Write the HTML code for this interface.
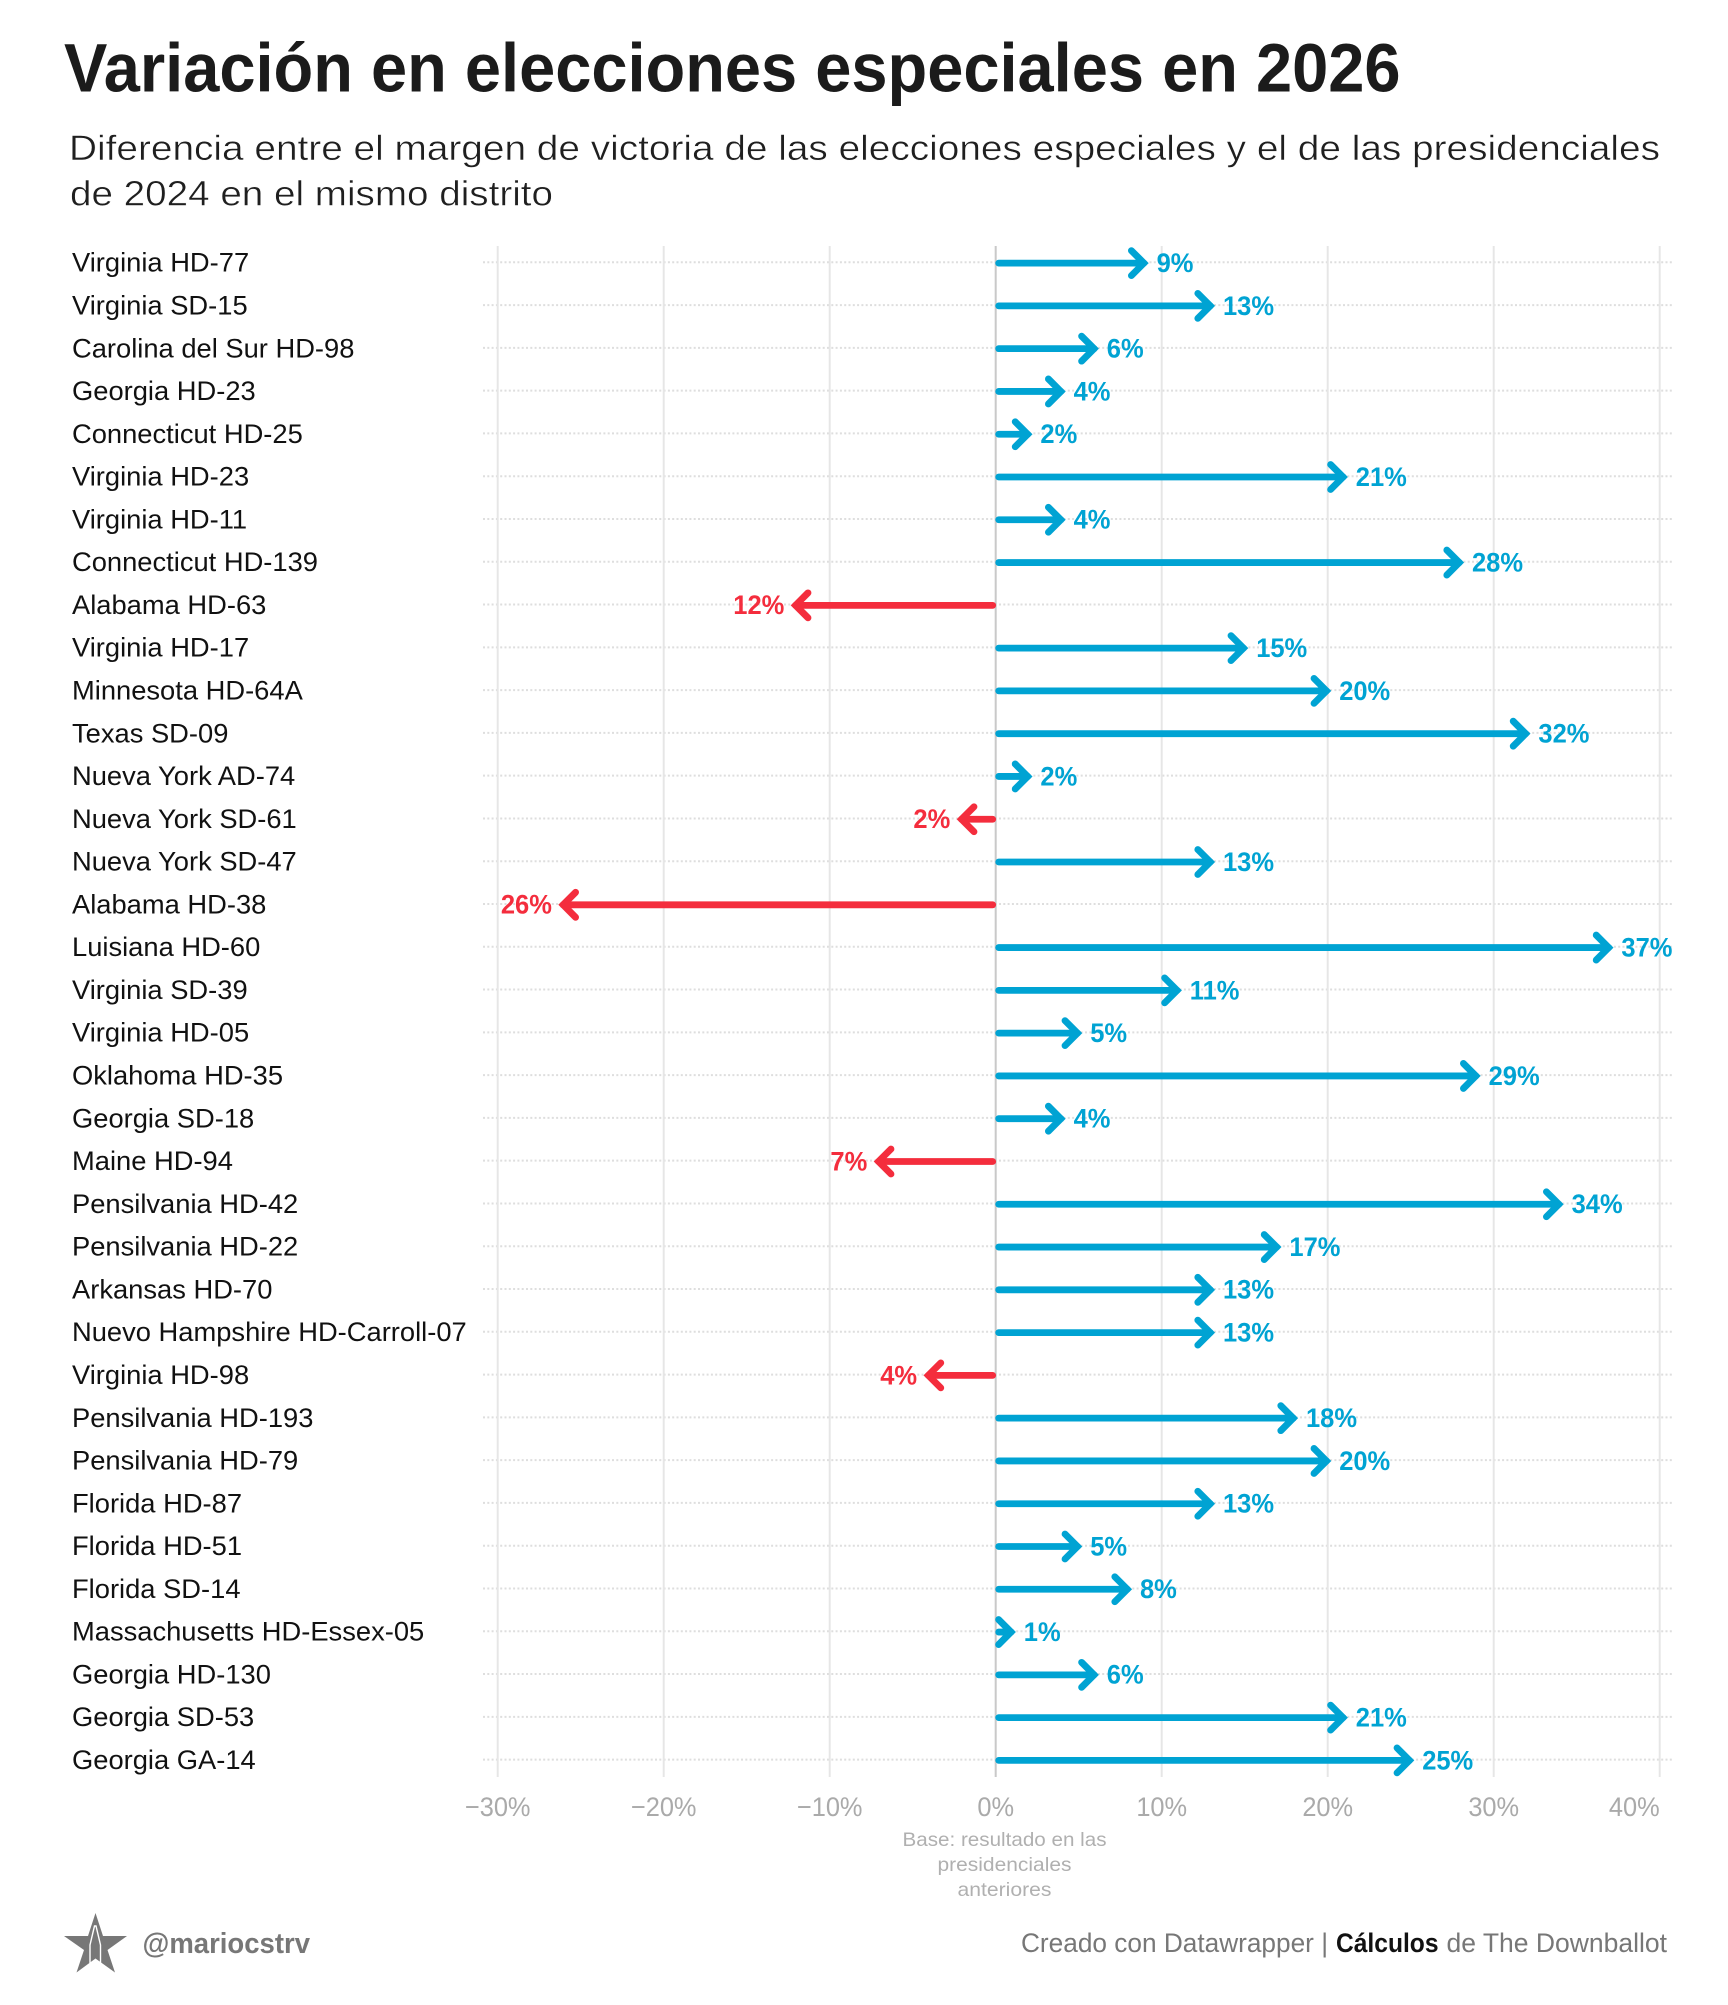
<!DOCTYPE html>
<html lang="es">
<head>
<meta charset="utf-8">
<title>Variación en elecciones especiales en 2026</title>
<style>
html,body{margin:0;padding:0;background:#fff;}
svg{display:block;font-family:"Liberation Sans",sans-serif;}
</style>
</head>
<body>
<svg id="chart" xmlns="http://www.w3.org/2000/svg" width="1728" height="2005" viewBox="0 0 1728 2005">
  <rect x="0" y="0" width="1728" height="2005" fill="#ffffff"/>
  <text x="64" y="91.5" font-size="69" font-weight="700" fill="#1b1b1b" textLength="1336.5" lengthAdjust="spacingAndGlyphs">Variación en elecciones especiales en 2026</text>
  <text x="69" y="160" font-size="35" fill="#1f1f1f" stroke="#ffffff" stroke-width="0.45" textLength="1591" lengthAdjust="spacingAndGlyphs">Diferencia entre el margen de victoria de las elecciones especiales y el de las presidenciales</text>
  <text x="70" y="205.5" font-size="35" fill="#1f1f1f" stroke="#ffffff" stroke-width="0.45" textLength="483" lengthAdjust="spacingAndGlyphs">de 2024 en el mismo distrito</text>

  <g id="grid-rows"></g>
  <g id="grid-cols"></g>
  <g id="row-labels"></g>
  <g id="arrows"></g>
  <g id="ticks"></g>

  <g font-size="19.5" fill="#b0b0b0" text-anchor="middle">
    <text x="1004.5" y="1846" textLength="204" lengthAdjust="spacingAndGlyphs">Base: resultado en las</text>
    <text x="1004.5" y="1871" textLength="134" lengthAdjust="spacingAndGlyphs">presidenciales</text>
    <text x="1004.5" y="1896" textLength="94" lengthAdjust="spacingAndGlyphs">anteriores</text>
  </g>

  <g>
    <polygon points="95.5,1913 103,1936 127,1936 107.5,1950 115,1972.5 95.5,1958.5 76.5,1972.5 84,1950 64,1936 88,1936" fill="#777777"/>
    <polyline points="90,1963 90,1945 94.5,1926 96,1926 100.5,1945 100.5,1963" fill="none" stroke="#ffffff" stroke-width="1.4"/>
  </g>
  <text x="142.5" y="1953" font-size="29" font-weight="700" fill="#777777" textLength="167.5" lengthAdjust="spacingAndGlyphs">@mariocstrv</text>
  <g font-size="26.5" fill="#777777">
    <text x="1021" y="1952" textLength="307" lengthAdjust="spacingAndGlyphs">Creado con Datawrapper |</text>
    <text x="1336" y="1952" font-weight="700" fill="#111111" textLength="102.5" lengthAdjust="spacingAndGlyphs">Cálculos</text>
    <text x="1446.5" y="1952" textLength="220.5" lengthAdjust="spacingAndGlyphs">de The Downballot</text>
  </g>
</svg>
<script>
var categories = ["Virginia HD-77","Virginia SD-15","Carolina del Sur HD-98","Georgia HD-23","Connecticut HD-25","Virginia HD-23","Virginia HD-11","Connecticut HD-139","Alabama HD-63","Virginia HD-17","Minnesota HD-64A","Texas SD-09","Nueva York AD-74","Nueva York SD-61","Nueva York SD-47","Alabama HD-38","Luisiana HD-60","Virginia SD-39","Virginia HD-05","Oklahoma HD-35","Georgia SD-18","Maine HD-94","Pensilvania HD-42","Pensilvania HD-22","Arkansas HD-70","Nuevo Hampshire HD-Carroll-07","Virginia HD-98","Pensilvania HD-193","Pensilvania HD-79","Florida HD-87","Florida HD-51","Florida SD-14","Massachusetts HD-Essex-05","Georgia HD-130","Georgia SD-53","Georgia GA-14"];
var swingValues = [9,13,6,4,2,21,4,28,-12,15,20,32,2,-2,13,-26,37,11,5,29,4,-7,34,17,13,13,-4,18,20,13,5,8,1,6,21,25];
var tickValues = [-30,-20,-10,0,10,20,30,40];
var tickLabels = ["−30%","−20%","−10%","0%","10%","20%","30%","40%"];

var NS = "http://www.w3.org/2000/svg";
function xScale(v) { return 995.7 + v * 16.6; }
function yScale(i) { return 262.3 + i * 42.78; }
function make(tag, parent, attrs) {
  var el = document.createElementNS(NS, tag);
  for (var k in attrs) el.setAttribute(k, attrs[k]);
  parent.appendChild(el);
  return el;
}
var gridRows = document.getElementById("grid-rows");
var gridCols = document.getElementById("grid-cols");
var rowLabels = document.getElementById("row-labels");
var arrows = document.getElementById("arrows");
var ticks = document.getElementById("ticks");

categories.forEach(function (name, i) {
  var y = yScale(i);
  var dot = make("line", gridRows, {x1: 483, x2: 1672, y1: y, y2: y, stroke: "#dedede", "stroke-width": 2, "stroke-dasharray": "2 2.3"});
  
  
  var lab = make("text", rowLabels, {transform: "translate(72 " + (y + 9.4) + ") scale(1.012 1)", "font-size": 27, fill: "#111111"});
  lab.textContent = name;
  
  
});

tickValues.forEach(function (v, i) {
  var x = xScale(v);
  var grid = make("line", gridCols, {x1: x, x2: x, y1: 246, y2: 1777, stroke: v === 0 ? "#c9c9c9" : "#e6e6e6", "stroke-width": 2});
  
  
  var isLast = i === tickValues.length - 1;
  var t = make("text", ticks, {transform: "translate(" + x + " 1816) scale(0.94 1)", "font-size": 27, fill: "#aaaaaa", "text-anchor": isLast ? "end" : "middle"});
  t.textContent = tickLabels[i];
  
  
});

swingValues.forEach(function (v, i) {
  var y = yScale(i) + 0.8;
  var dir = v >= 0 ? 1 : -1;
  var color = v >= 0 ? "#00a3d3" : "#f42d3d";
  var x0 = xScale(0);
  var vx = xScale(v) + (dir > 0 ? -1.2 : -1);
  var g = make("g", arrows, {});
  
  
  var shaft = make("line", g, {x1: x0 + dir * 3, x2: vx, y1: y, y2: y, stroke: color, "stroke-width": 6.8, "stroke-linecap": "round"});
  
  
  var d = "M" + (vx - dir * 12.5) + " " + (y - 12.5) + "L" + vx + " " + y + "L" + (vx - dir * 12.5) + " " + (y + 12.5);
  var head = make("path", g, {d: d, fill: "none", stroke: color, "stroke-width": 6.8, "stroke-linecap": "round", "stroke-linejoin": "miter"});
  
  
  var tip = vx + dir * 4.7;
  var gap = dir > 0 ? 8 : 6.5;
  var lab = make("text", g, {transform: "translate(" + (tip + dir * gap) + " " + (yScale(i) + 9.7) + ") scale(0.945 1)", "font-size": 27, "font-weight": 700, fill: color, "text-anchor": dir > 0 ? "start" : "end"});
  lab.textContent = Math.abs(v) + "%";
  
  
});
</script>
</body>
</html>
